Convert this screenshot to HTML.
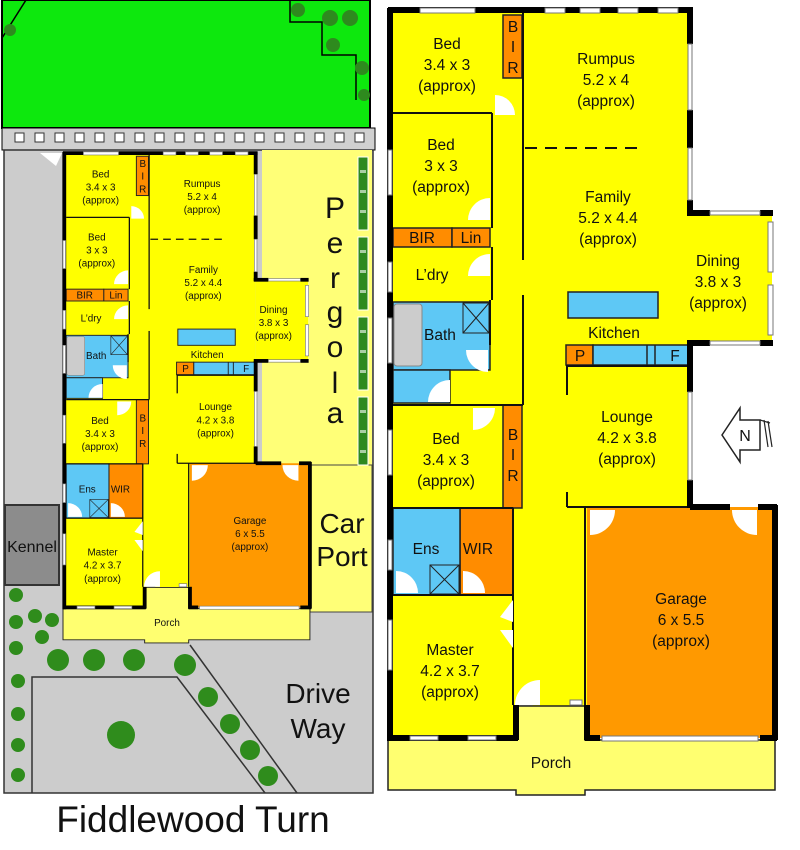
<!DOCTYPE html>
<html><head><meta charset="utf-8"><style>
html,body{margin:0;padding:0;background:#fff;width:800px;height:850px;overflow:hidden}
text{font-family:"Liberation Sans",sans-serif;fill:#111}
</style></head><body>
<svg width="800" height="850" viewBox="0 0 800 850" xmlns="http://www.w3.org/2000/svg">
<!-- LEFT SITE -->
<rect x="2" y="0" width="368" height="128" fill="#0de80d" stroke="#000" stroke-width="2"/>
<line x1="2" y1="38" x2="26" y2="0" stroke="#000" stroke-width="1.5"/>
<polyline points="290,0 290,22 322,22 322,55 356,55 356,100" fill="none" stroke="#000" stroke-width="1.5"/>
<g fill="#2e8a1e">
<circle cx="298" cy="10" r="7"/><circle cx="330" cy="18" r="8"/><circle cx="350" cy="18" r="8"/><circle cx="333" cy="45" r="7"/><circle cx="362" cy="68" r="7"/><circle cx="364" cy="95" r="6"/><circle cx="10" cy="30" r="6"/></g>
<rect x="2" y="128" width="373" height="22" fill="#d0d0d0" stroke="#000" stroke-width="1"/>
<g fill="#fff" stroke="#333" stroke-width="1">
<rect x="15" y="133" width="9" height="9"/><rect x="35" y="133" width="9" height="9"/><rect x="55" y="133" width="9" height="9"/><rect x="75" y="133" width="9" height="9"/><rect x="95" y="133" width="9" height="9"/><rect x="115" y="133" width="9" height="9"/><rect x="135" y="133" width="9" height="9"/><rect x="155" y="133" width="9" height="9"/><rect x="175" y="133" width="9" height="9"/><rect x="195" y="133" width="9" height="9"/><rect x="215" y="133" width="9" height="9"/><rect x="235" y="133" width="9" height="9"/><rect x="255" y="133" width="9" height="9"/><rect x="275" y="133" width="9" height="9"/><rect x="295" y="133" width="9" height="9"/><rect x="315" y="133" width="9" height="9"/><rect x="335" y="133" width="9" height="9"/><rect x="355" y="133" width="9" height="9"/></g>
<rect x="4" y="150" width="369" height="643" fill="#cccccc" stroke="#333" stroke-width="1.5"/>
<polygon points="40,153 62,153 56,166" fill="#fff"/>
<rect x="262" y="150" width="110" height="315" fill="#ffff77"/>
<rect x="310" y="465" width="62" height="147" fill="#ffff77" stroke="#444" stroke-width="1"/>
<g fill="#2e8a1e" stroke="#fff" stroke-width="1">
<rect x="358" y="157" width="10" height="73"/><rect x="358" y="237" width="10" height="73"/><rect x="358" y="317" width="10" height="73"/><rect x="358" y="397" width="10" height="68"/></g>
<g fill="#fff" opacity="0.6">
<rect x="360" y="170" width="6" height="3"/><rect x="360" y="190" width="6" height="3"/><rect x="360" y="210" width="6" height="3"/><rect x="360" y="250" width="6" height="3"/><rect x="360" y="270" width="6" height="3"/><rect x="360" y="290" width="6" height="3"/><rect x="360" y="330" width="6" height="3"/><rect x="360" y="350" width="6" height="3"/><rect x="360" y="370" width="6" height="3"/><rect x="360" y="410" width="6" height="3"/><rect x="360" y="430" width="6" height="3"/><rect x="360" y="450" width="6" height="3"/></g>
<g font-size="30" text-anchor="middle"><text x="335" y="218">P</text><text x="335" y="253">e</text><text x="335" y="288">r</text><text x="335" y="322">g</text><text x="335" y="357">o</text><text x="335" y="393">l</text><text x="335" y="423">a</text></g>
<g font-size="28" text-anchor="middle"><text x="342" y="533">Car</text><text x="342" y="566">Port</text>
<text x="318" y="703">Drive</text><text x="318" y="738">Way</text></g>
<rect x="5" y="505" width="54" height="80" fill="#8c8c8c" stroke="#333" stroke-width="2"/>
<text x="32" y="552" font-size="16" text-anchor="middle">Kennel</text>
<polyline points="32,793 32,677 177,677 265,793" fill="none" stroke="#333" stroke-width="1.5"/>
<line x1="190" y1="645" x2="297" y2="793" stroke="#333" stroke-width="1.5"/>
<g fill="#2f8c1c">
<circle cx="16" cy="595" r="7"/><circle cx="16" cy="622" r="7"/><circle cx="35" cy="616" r="7"/><circle cx="52" cy="620" r="7"/><circle cx="42" cy="637" r="7"/><circle cx="16" cy="648" r="7"/><circle cx="58" cy="660" r="11"/><circle cx="94" cy="660" r="11"/><circle cx="134" cy="660" r="11"/><circle cx="185" cy="665" r="11"/><circle cx="18" cy="681" r="7"/><circle cx="18" cy="714" r="7"/><circle cx="18" cy="745" r="7"/><circle cx="18" cy="775" r="7"/><circle cx="208" cy="697" r="10"/><circle cx="230" cy="724" r="10"/><circle cx="250" cy="750" r="10"/><circle cx="268" cy="776" r="10"/><circle cx="121" cy="735" r="14"/></g>
<text x="193" y="832" font-size="37" text-anchor="middle">Fiddlewood Turn</text>

<!-- PLAN (right frame coords) -->
<g id="plan">
<rect x="390" y="10" width="300" height="500" fill="#ffff00"/>
<rect x="690" y="212" width="82" height="132" fill="#ffff00"/>
<rect x="390" y="505" width="197" height="235" fill="#ffff00"/>
<polygon points="388,740 516,740 516,706 585,706 585,740 775,740 775,790 585,790 585,795 516,795 516,790 388,790" fill="#ffff70" stroke="#222" stroke-width="1.5"/>
<rect x="587" y="507" width="187" height="231" fill="#ff9900"/>
<g fill="#ff8c00" stroke="#222" stroke-width="1.5">
<rect x="503" y="15" width="19" height="63"/><rect x="393" y="228" width="59" height="19"/><rect x="452" y="228" width="38" height="19"/><rect x="503" y="405" width="19" height="103"/><rect x="460" y="508" width="53" height="87"/><rect x="566" y="345" width="27" height="20"/></g>
<g fill="#5ec8f5" stroke="#222" stroke-width="1.5">
<rect x="393" y="302" width="97" height="68"/><rect x="393" y="370" width="57" height="33"/><rect x="393" y="508" width="67" height="87"/><rect x="568" y="292" width="90" height="26"/><rect x="593" y="345" width="97" height="20"/></g>
<rect x="394" y="304" width="28" height="62" rx="3" fill="#ccc" stroke="#888"/>
<line x1="647" y1="345" x2="647" y2="365" stroke="#222" stroke-width="1.5"/><line x1="655" y1="345" x2="655" y2="365" stroke="#222" stroke-width="1.5"/>
<g fill="none" stroke="#222" stroke-width="1"><rect x="463" y="303" width="26" height="30"/><line x1="463" y1="303" x2="489" y2="333"/><line x1="489" y1="303" x2="463" y2="333"/><rect x="430" y="565" width="29" height="29"/><line x1="430" y1="565" x2="459" y2="594"/><line x1="459" y1="565" x2="430" y2="594"/></g>
<g stroke="#111" stroke-width="2" fill="none">
<line x1="393" y1="113" x2="492" y2="113"/><line x1="492" y1="113" x2="492" y2="228"/>
<line x1="492" y1="247" x2="492" y2="300"/><line x1="490" y1="300" x2="490" y2="345"/>
<line x1="523" y1="12" x2="523" y2="260"/><line x1="523" y1="295" x2="523" y2="405"/>
<line x1="393" y1="405" x2="523" y2="405"/>
<line x1="393" y1="508" x2="513" y2="508"/><line x1="513" y1="508" x2="513" y2="705"/>
<line x1="393" y1="595" x2="513" y2="595"/>
<line x1="567" y1="365" x2="567" y2="395"/><line x1="567" y1="492" x2="567" y2="507"/>
<line x1="567" y1="507" x2="690" y2="507"/><line x1="566" y1="366" x2="690" y2="366"/>
<line x1="585" y1="507" x2="585" y2="705"/>
<line x1="525" y1="148" x2="640" y2="148" stroke-dasharray="12,8"/>
</g>
<g stroke="#000" stroke-width="6" fill="none">
<line x1="388" y1="10" x2="693" y2="10"/>
<line x1="390" y1="8" x2="390" y2="741"/>
<line x1="690" y1="8" x2="690" y2="44"/><line x1="690" y1="110" x2="690" y2="148"/><line x1="690" y1="200" x2="690" y2="215"/>
<line x1="687" y1="213" x2="710" y2="213"/><line x1="760" y1="213" x2="773" y2="213"/>
<line x1="687" y1="343" x2="710" y2="343"/><line x1="760" y1="343" x2="773" y2="343"/>
<line x1="690" y1="343" x2="690" y2="392"/><line x1="690" y1="480" x2="690" y2="508"/>
<line x1="690" y1="507" x2="730" y2="507"/><line x1="758" y1="507" x2="777" y2="507"/>
<line x1="775" y1="505" x2="775" y2="740"/>
<line x1="587" y1="705" x2="587" y2="740"/><line x1="585" y1="738" x2="600" y2="738"/><line x1="760" y1="738" x2="777" y2="738"/>
<line x1="388" y1="738" x2="518" y2="738"/><line x1="516" y1="705" x2="516" y2="740"/>
</g>
<g fill="#fff" stroke="#777" stroke-width="1">
<rect x="420" y="8" width="55" height="5"/><rect x="545" y="8" width="20" height="5"/><rect x="580" y="8" width="20" height="5"/><rect x="618" y="8" width="20" height="5"/><rect x="658" y="8" width="20" height="5"/>
<rect x="688" y="44" width="4" height="66"/><rect x="688" y="148" width="4" height="52"/><rect x="710" y="211" width="50" height="4"/><rect x="710" y="341" width="50" height="4"/><rect x="768" y="222" width="5" height="50"/><rect x="768" y="285" width="5" height="50"/><rect x="688" y="392" width="4" height="88"/>
<rect x="602" y="736" width="156" height="5"/><rect x="410" y="736" width="28" height="4"/><rect x="468" y="736" width="28" height="4"/>
<rect x="388" y="150" width="4" height="45"/><rect x="388" y="262" width="4" height="30"/><rect x="388" y="318" width="4" height="45"/><rect x="388" y="430" width="4" height="45"/><rect x="388" y="540" width="4" height="30"/><rect x="388" y="620" width="4" height="50"/>
<rect x="520" y="700" width="12" height="5"/><rect x="570" y="700" width="12" height="5"/></g>
<g fill="#fff">
<path d="M495 115 h20 a20 20 0 0 0 -20 -20z"/>
<path d="M490 220 v-22 a22 22 0 0 0 -22 22z"/>
<path d="M490 276 v-22 a22 22 0 0 0 -22 22z"/>
<path d="M488 350 h-22 a22 22 0 0 0 22 22z" />
<path d="M450 402 v-22 a22 22 0 0 0 -22 22z"/>
<path d="M473 408 h22 a22 22 0 0 1 -22 22z"/>
<path d="M590 510 v25 a25 25 0 0 0 25 -25z"/>
<path d="M757 510 v25 a25 25 0 0 1 -25 -25z"/>
<path d="M540 705 v-25 a25 25 0 0 0 -25 25z"/>
<path d="M396 593 v-22 a22 22 0 0 1 22 22z"/>
<path d="M463 593 v-22 a22 22 0 0 1 22 22z"/>
<polygon points="513,600 500,617 513,622"/><polygon points="513,630 500,630 513,648"/>
</g>
<g font-size="15.5" text-anchor="middle">
<text x="447" y="49">Bed</text><text x="447" y="70">3.4 x 3</text><text x="447" y="91">(approx)</text>
<text x="606" y="64">Rumpus</text><text x="606" y="85">5.2 x 4</text><text x="606" y="106">(approx)</text>
<text x="441" y="150">Bed</text><text x="441" y="171">3 x 3</text><text x="441" y="192">(approx)</text>
<text x="608" y="202">Family</text><text x="608" y="223">5.2 x 4.4</text><text x="608" y="244">(approx)</text>
<text x="718" y="266">Dining</text><text x="718" y="287">3.8 x 3</text><text x="718" y="308">(approx)</text>
<text x="614" y="338">Kitchen</text>
<text x="627" y="422">Lounge</text><text x="627" y="443">4.2 x 3.8</text><text x="627" y="464">(approx)</text>
<text x="446" y="444">Bed</text><text x="446" y="465">3.4 x 3</text><text x="446" y="486">(approx)</text>
<text x="681" y="604">Garage</text><text x="681" y="625">6 x 5.5</text><text x="681" y="646">(approx)</text>
<text x="450" y="655">Master</text><text x="450" y="676">4.2 x 3.7</text><text x="450" y="697">(approx)</text>
<text x="551" y="768">Porch</text>
<text x="432" y="280">L’dry</text><text x="440" y="340">Bath</text>
<text x="426" y="554">Ens</text><text x="478" y="554">WIR</text>
<text x="513" y="32">B</text><text x="513" y="52">I</text><text x="513" y="73">R</text>
<text x="513" y="440">B</text><text x="513" y="460">I</text><text x="513" y="481">R</text>
<text x="422" y="243">BIR</text><text x="471" y="243">Lin</text>
<text x="580" y="361">P</text><text x="675" y="361">F</text>
</g>
</g>
<use href="#plan" transform="translate(63,150) scale(0.638,0.624) translate(-388,-5)"/>
<polygon points="722,435 740,408 740,420 760,420 760,450 740,450 740,462" fill="#fff" stroke="#222" stroke-width="1.5"/>
<g stroke="#222" stroke-width="1.2"><line x1="760" y1="420" x2="770" y2="423"/><line x1="764" y1="420" x2="768" y2="447"/><line x1="768" y1="421" x2="772" y2="447"/></g>
<text x="745" y="441" font-size="16" text-anchor="middle">N</text>
</svg>
</body></html>
